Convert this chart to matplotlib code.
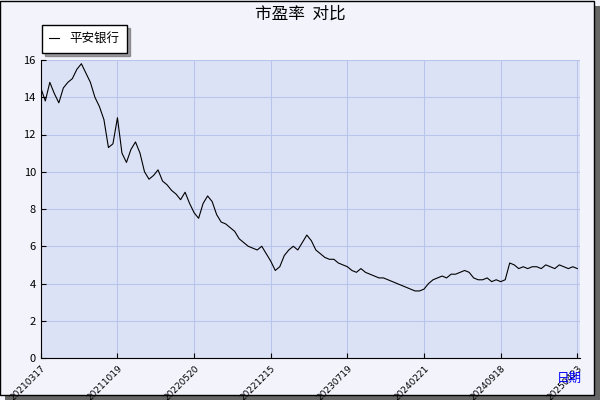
import matplotlib
matplotlib.use('Agg')
import matplotlib.pyplot as plt
import matplotlib.patches as mpatches

plt.rcParams['font.family'] = ['Noto Sans CJK SC', 'DejaVu Sans']

# values read every ~10 trading days
peValues = [14.5,13.8,14.8,14.2,13.7,14.5,14.8,15.0,15.5,15.8,15.3,14.8,14.0,13.5,12.8,11.3,
            11.5,12.9,11.0,10.5,11.2,11.6,11.0,10.0,9.6,9.8,10.1,9.5,9.3,9.0,8.8,8.5,8.9,8.3,
            7.8,7.5,8.3,8.7,8.4,7.7,7.3,7.2,7.0,6.8,6.4,6.2,6.0,5.9,5.8,6.0,5.6,5.2,4.7,4.9,
            5.5,5.8,6.0,5.8,6.2,6.6,6.3,5.8,5.6,5.4,5.3,5.3,5.1,5.0,4.9,4.7,4.6,4.8,4.6,4.5,
            4.4,4.3,4.3,4.2,4.1,4.0,3.9,3.8,3.7,3.6,3.6,3.7,4.0,4.2,4.3,4.4,4.3,4.5,4.5,4.6,
            4.7,4.6,4.3,4.2,4.2,4.3,4.1,4.2,4.1,4.2,5.1,5.0,4.8,4.9,4.8,4.9,4.9,4.8,5.0,4.9,
            4.8,5.0,4.9,4.8,4.9,4.8]
dayStep = 10
tickLabels = ['20210317','20211019','20220520','20221215','20230719','20240221','20240918','20250423']

fig = plt.figure(figsize=(6, 4), dpi=100, facecolor='#f2f3fb')
# outer border with shadow
fig.patches.append(mpatches.Rectangle((0.008, 0.0), 0.992, 0.985, transform=fig.transFigure,
                                      facecolor='#666666', edgecolor='none', zorder=-2))
fig.patches.append(mpatches.Rectangle((0.0, 0.012), 0.99, 0.985, transform=fig.transFigure,
                                      facecolor='#f2f3fb', edgecolor='black', lw=1, zorder=-1))

ax = fig.add_axes([0.068, 0.105, 0.898, 0.745])
ax.set_facecolor('#dce2f6')
xs = [i * dayStep for i in range(len(peValues))]
ax.plot(xs, peValues, color='black', lw=0.8, label='平安银行')
tickStep = xs[-1] / (len(tickLabels) - 1)
ax.set_xlim(0, xs[-1] + 5)
ax.set_ylim(0, 16)
ax.set_yticks(range(0, 17, 2))
ax.set_xticks([i * tickStep for i in range(len(tickLabels))])
ax.set_xticklabels(tickLabels, rotation=45, ha='right', va='top', rotation_mode='anchor',
                   fontsize=6.5, family='DejaVu Sans')
ax.tick_params(axis='y', labelsize=8, direction='in')
ax.tick_params(axis='x', direction='in', pad=4)
ax.grid(True, color='#b8c4ea', lw=0.8)
for s in ['top', 'right']:
    ax.spines[s].set_visible(False)

fig.text(0.5, 0.965, '市盈率  对比', ha='center', va='center', fontsize=12)
fig.text(0.97, 0.055, '日期', ha='right', va='center', fontsize=9, color='blue')
leg = ax.legend(loc='lower left', bbox_to_anchor=(-0.005, 1.01), fancybox=False, shadow=True,
                framealpha=1, edgecolor='black', fontsize=9, handlelength=0.8,
                borderpad=0.6, borderaxespad=0.3)
fig.savefig('out.png', facecolor=fig.get_facecolor())
